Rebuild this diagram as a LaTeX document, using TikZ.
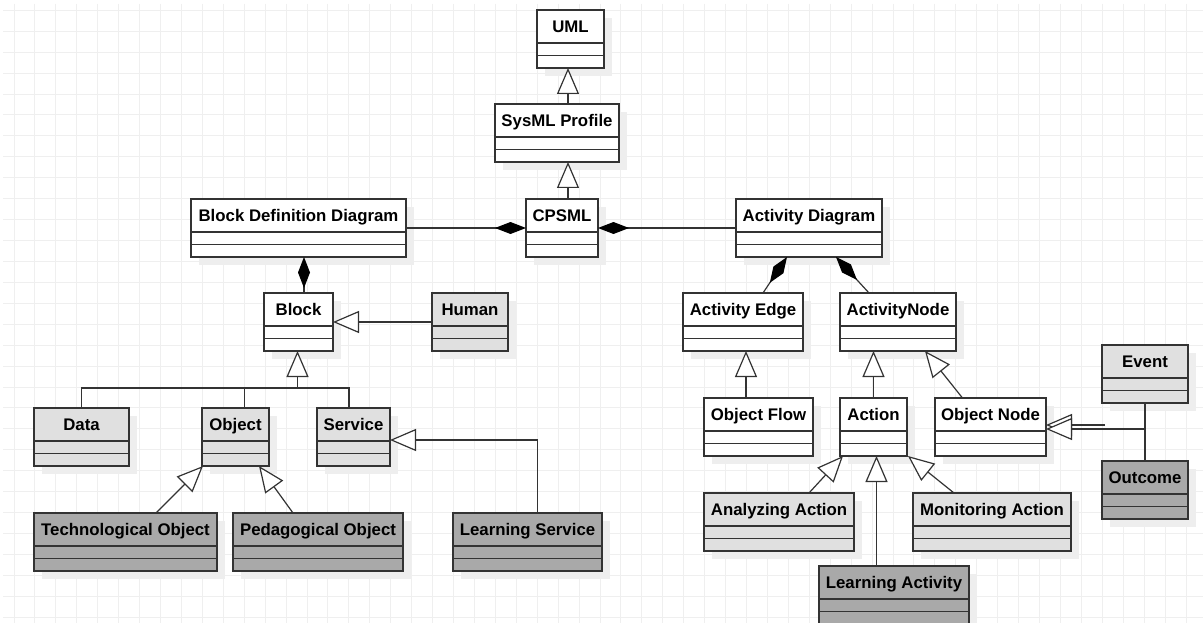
\documentclass[tikz,border=0pt]{standalone}
\usepackage{fontspec}
\setmainfont{Liberation Sans}
\usetikzlibrary{arrows.meta,calc}
\definecolor{linec}{RGB}{51,51,51}
\definecolor{lightc}{RGB}{224,224,224}
\definecolor{darkc}{RGB}{169,169,169}
\definecolor{gridc}{RGB}{239,239,239}
\definecolor{shadowc}{RGB}{238,238,238}
\tikzset{
  cls/.style={draw=linec, line width=1.2pt, rectangle, inner sep=0pt, outer sep=0pt, minimum height=58pt},
  clsline/.style={draw=linec, line width=1.2pt},
  clstext/.style={font=\fontsize{16.8}{20}\selectfont\bfseries, text=black, inner sep=0pt},
  conn/.style={draw=linec, line width=1.2pt},
  gen/.style={conn, -{Triangle[open, fill=white, length=26pt, width=22pt, line width=1.2pt]}},
  comp/.style={conn, -{Diamond[length=31pt, width=12pt, color=black, fill=black]}},
}
\newcommand{\umlcls}[6]{%
  \fill[shadowc] (#2+8,#3+8) rectangle (#4+8,#3+66);
  \node[cls, fill=#5, minimum width={#4-#2}, anchor=north west] (#1) at (#2,#3) {};
  \draw[clsline] ([yshift=-33]#1.north west) -- ([yshift=-33]#1.north east);
  \draw[clsline] ([yshift=-45.5]#1.north west) -- ([yshift=-45.5]#1.north east);
  \node[clstext, anchor=base] at ({(#2+#4)/2},{#3+22.5}) {#6};
}
\begin{document}
\begin{tikzpicture}[x=1pt, y=-1pt]
\useasboundingbox (0,0) rectangle (1203,623);
\fill[white] (0,0) rectangle (1203,623);
% grid
\foreach \i in {0,...,56} \draw[gridc, line width=1pt] ({14+20.93*\i},4) -- ({14+20.93*\i},623);
\foreach \j in {0,...,29} \draw[gridc, line width=1pt] (3,{10.3+20.93*\j}) -- (1203,{10.3+20.93*\j});
% classes
\umlcls{uml}{537}{10}{604}{white}{UML}
\umlcls{sysml}{495}{104}{619}{white}{SysML Profile}
\umlcls{cpsml}{526}{199}{598}{white}{CPSML}
\umlcls{bdd}{191}{199}{406}{white}{Block Definition Diagram}
\umlcls{ad}{736}{199}{882}{white}{Activity Diagram}
\umlcls{block}{264}{293}{333}{white}{Block}
\umlcls{human}{432}{293}{508}{lightc}{Human}
\umlcls{data}{34}{408}{129}{lightc}{Data}
\umlcls{object}{202}{408}{269}{lightc}{Object}
\umlcls{service}{317}{408}{390}{lightc}{Service}
\umlcls{tech}{34}{513}{217}{darkc}{Technological Object}
\umlcls{ped}{233}{513}{403}{darkc}{Pedagogical Object}
\umlcls{ls}{453}{513}{602}{darkc}{Learning Service}
\umlcls{ae}{683}{293}{803}{white}{Activity Edge}
\umlcls{an}{840}{293}{956}{white}{ActivityNode}
\umlcls{of}{704}{398}{813}{white}{Object Flow}
\umlcls{action}{840}{398}{907}{white}{Action}
\umlcls{on}{935}{398}{1046}{white}{Object Node}
\umlcls{event}{1102}{345}{1188}{lightc}{Event}
\umlcls{outcome}{1102}{461}{1188}{darkc}{Outcome}
\umlcls{aa}{704}{493}{854}{lightc}{Analyzing Action}
\umlcls{ma}{913}{493}{1071}{lightc}{Monitoring Action}
\umlcls{la}{819}{566}{969}{darkc}{Learning Activity}
% helper coordinates
\coordinate (cx) at (568,0);
\coordinate (bus) at (0,388);
\coordinate (jn) at (1145,429);
% top chain
\draw[gen] (sysml.north -| cx) -- (uml.south -| cx);
\draw[gen] (cpsml.north -| cx) -- (sysml.south -| cx);
% compositions
\draw[comp] (bdd.east) -- (cpsml.west);
\draw[comp] (ad.west) -- (cpsml.east);
\draw[comp] ([xshift=5.5]block.north) -- ([xshift=5.5]bdd.south);
\draw[comp] ([xshift=20]ae.north) -- ([xshift=-22]ad.south);
\draw[comp] ([xshift=-29]an.north) -- ([xshift=27]ad.south);
% block hierarchy
\draw[gen] (human.west) -- (block.east);
\draw[conn] (data.north) -- (data.north |- bus) -- ([xshift=-4.5]service.north |- bus) -- ([xshift=-4.5]service.north);
\draw[conn] ([xshift=9]object.north) -- ([xshift=9]object.north |- bus);
\draw[gen] ([xshift=-1]block.south |- bus) -- ([xshift=-1]block.south);
\draw[gen] ([xshift=30.5]tech.north) -- ([xshift=1]object.south west);
\draw[gen] ([xshift=-25]ped.north) -- ([xshift=-10]object.south east);
\draw[gen] ([xshift=10]ls.north) |- ([yshift=-3]service.east);
% activity side
\draw[gen] ([xshift=-12.5]of.north) -- ([xshift=-12.5]of.north |- ae.south);
\draw[gen] (action.north) -- (action.north |- an.south);
\draw[gen] ([xshift=-28]on.north) -- ([xshift=-31]an.south east);
\draw[conn] (event.south) -- (outcome.north);
\draw[gen] ([xshift=-40,yshift=2]on.east -| jn) -- ([yshift=2]on.east);
\draw[gen] (jn) -- (jn -| on.east);
\draw[gen] ([xshift=30]aa.north) -- ([xshift=3]action.south west);
\draw[gen] ([xshift=3]action.south |- la.north) -- ([xshift=3]action.south);
\draw[gen] ([xshift=-38]ma.north) -- ([xshift=1]action.south east);
\end{tikzpicture}
\end{document}
